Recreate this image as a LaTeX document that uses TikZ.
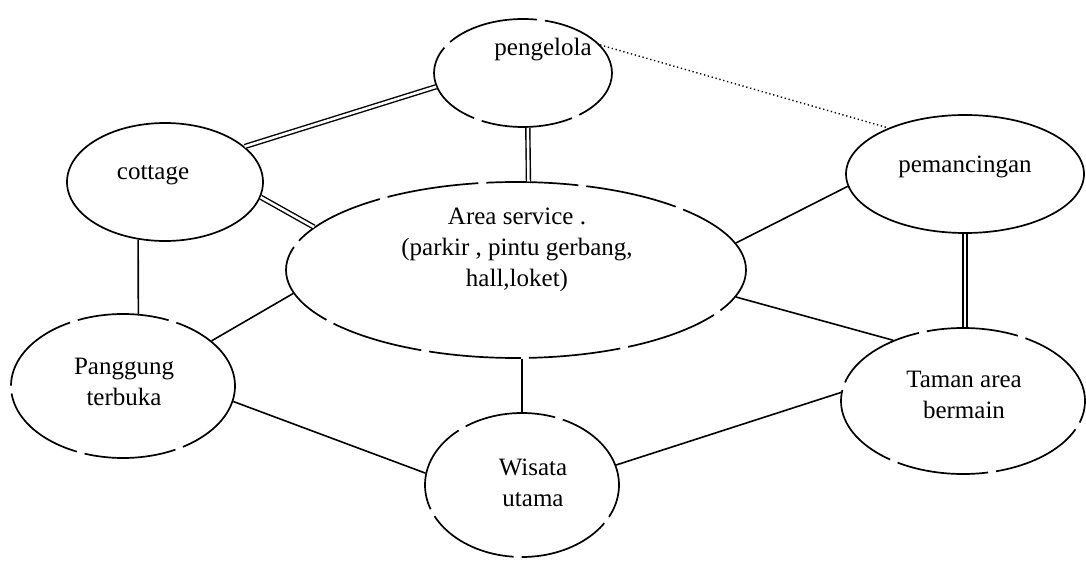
\documentclass[tikz,border=0pt]{standalone}
\usepackage{fontspec}
\setmainfont{Liberation Serif}
\usetikzlibrary{shapes.geometric}
\begin{document}
\begin{tikzpicture}[x=1pt,y=-1pt,
  bubble/.style={draw, ellipse, line width=1.7pt, inner sep=0pt},
  broken/.style={dash pattern=on 92pt off 8pt},
  lbl/.style={font=\fontsize{25}{31}\selectfont, align=center, inner sep=0pt},
  link/.style={line width=1.6pt},
  dbl/.style={double, double distance=2.6pt, line width=1.4pt},
  dots/.style={line width=1.4pt, dash pattern=on 1.3pt off 2.7pt}]
\fill[white] (0,0) rectangle (1086,561);
\useasboundingbox (0,0) rectangle (1086,561);

% ellipses
\node[bubble, broken, minimum width=178pt, minimum height=108pt] (pengelola) at (523,73) {};
\node[bubble, minimum width=196pt, minimum height=118pt] (cottage) at (165,182) {};
\node[bubble, minimum width=238pt, minimum height=118pt] (pemancingan) at (965,174) {};
\node[bubble, broken, minimum width=460pt, minimum height=176pt] (area) at (516,270) {};
\node[bubble, broken, minimum width=224pt, minimum height=144pt] (panggung) at (123,386) {};
\node[bubble, broken, minimum width=244pt, minimum height=146pt] (taman) at (963,401) {};
\node[bubble, broken, minimum width=194pt, minimum height=144pt] (wisata) at (522,485) {};

% labels
\node[lbl] (pengelola-t) at (543,50) {pengelola};
\node[lbl] (cottage-t) at (153,175) {cottage};
\node[lbl] (pemancingan-t) at (965,167) {pemancingan};
\node[lbl] (area-t) at (517,250) {Area service .\\(parkir , pintu gerbang,\\hall,loket)};
\node[lbl] (panggung-t) at (124,382) {Panggung\\terbuka};
\node[lbl] (taman-t) at (964,395) {Taman area\\bermain};
\node[lbl] (wisata-t) at (533,483) {Wisata\\utama};

% connections
\draw[dbl] (cottage.24) -- (pengelola.189);
\draw[dbl] (cottage.-9) -- (area.168);
\draw[dbl] (pengelola.-85) -- (area.82);
\draw[dots] (pengelola.20) -- (pemancingan.149);
\draw[link] (area.7) -- (pemancingan.186);
\draw[dbl] (pemancingan.south) -- (pemancingan.south |- taman.north);
\draw[link] (area.-7) -- (taman.139);
\draw[link] (taman.176) -- (wisata.12);
\draw[link] (wisata.north) -- (wisata.north |- area.south);
\draw[link] (panggung.-8) -- (wisata.173);
\draw[link] (panggung.27) -- (area.186);
\draw[link] (cottage.-115) -- (panggung.78);
\end{tikzpicture}
\end{document}
